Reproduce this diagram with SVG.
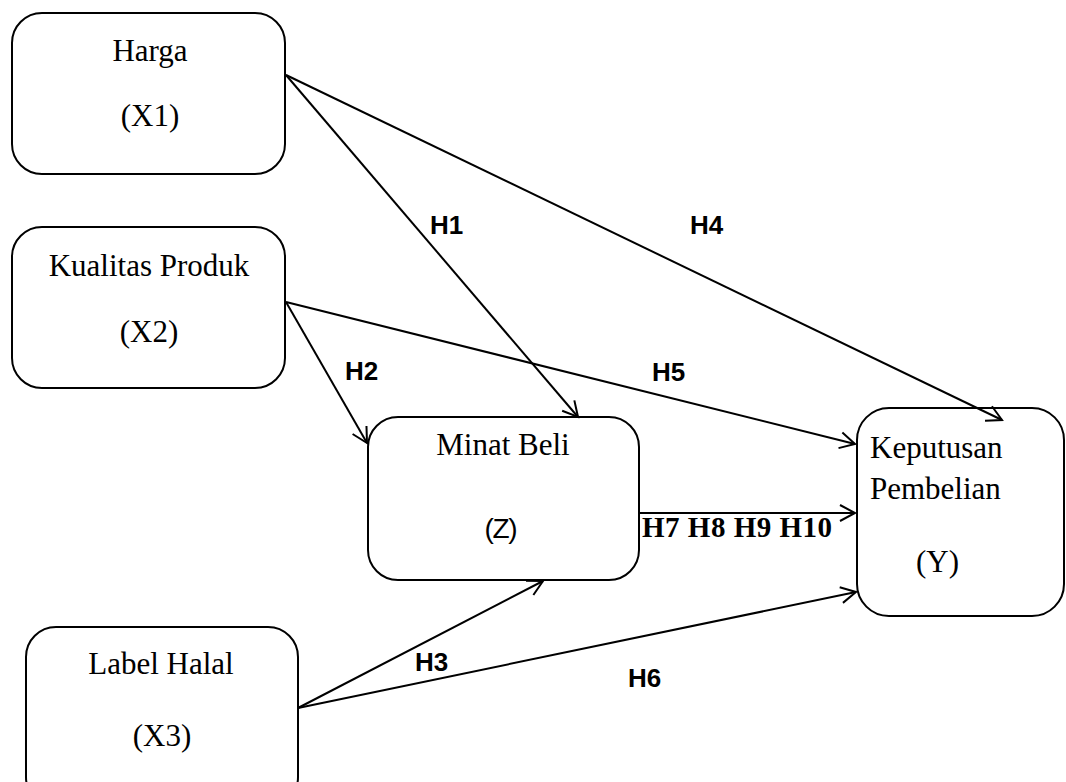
<svg xmlns="http://www.w3.org/2000/svg" width="1066" height="782" viewBox="0 0 1066 782">
<style>
.box{fill:#fff;stroke:#000;stroke-width:2}
.t{font-family:"Liberation Serif","Times New Roman",serif;font-size:31px;fill:#000}
.h{font-family:"Liberation Sans",Arial,sans-serif;font-size:26px;font-weight:bold;fill:#000}
.s{font-family:"Liberation Sans",Arial,sans-serif;font-size:28px;fill:#000}
.c line{stroke:#000;stroke-width:2;marker-end:url(#arr)}
</style>
<defs>
<marker id="arr" markerUnits="userSpaceOnUse" markerWidth="30" markerHeight="30" viewBox="-20 -15 30 30" refX="0" refY="0" orient="auto">
<path d="M-15,-8 L0,0 L-15,8" fill="none" stroke="#000" stroke-width="2"/>
</marker>
</defs>
<g id="harga">
<rect class="box" x="12" y="13" width="273" height="161" rx="30"/>
<text class="t" x="150" y="61" text-anchor="middle">Harga</text>
<text class="t" x="150" y="126" text-anchor="middle">(X1)</text>
</g>
<g id="kualitas">
<rect class="box" x="12" y="227" width="273" height="161" rx="30"/>
<text class="t" x="149" y="276" text-anchor="middle">Kualitas Produk</text>
<text class="t" x="149" y="342" text-anchor="middle">(X2)</text>
</g>
<g id="minat">
<rect class="box" x="368" y="417" width="271" height="163" rx="30"/>
<text class="t" x="503" y="455" text-anchor="middle">Minat Beli</text>
<text class="s" x="501" y="538" text-anchor="middle" textLength="33">(Z)</text>
</g>
<g id="keputusan">
<rect class="box" x="857" y="408" width="207" height="208" rx="32"/>
<text class="t" x="870" y="458">Keputusan</text>
<text class="t" x="870" y="499">Pembelian</text>
<text class="t" x="916" y="572">(Y)</text>
</g>
<g id="halal">
<rect class="box" x="26" y="627" width="272" height="180" rx="30"/>
<text class="t" x="161" y="674" text-anchor="middle">Label Halal</text>
<text class="t" x="162" y="746" text-anchor="middle">(X3)</text>
</g>
<g id="connectors" class="c">
<line x1="286" y1="75" x2="578" y2="417"/>
<line x1="286" y1="75" x2="1002" y2="420"/>
<line x1="286" y1="302" x2="367" y2="443"/>
<line x1="286" y1="302" x2="855" y2="444"/>
<line x1="640" y1="513" x2="855" y2="513"/>
<line x1="298" y1="708" x2="543" y2="581"/>
<line x1="298" y1="708" x2="856" y2="592"/>
</g>
<g id="labels">
<text class="h" x="430" y="234">H1</text>
<text class="h" x="690" y="234">H4</text>
<text class="h" x="345" y="380">H2</text>
<text class="h" x="652" y="381">H5</text>
<text class="h" x="415" y="671">H3</text>
<text class="h" x="628" y="687">H6</text>
<text x="642" y="537" style="font-family:'Liberation Serif','Times New Roman',serif;font-size:29px;font-weight:bold" textLength="190">H7 H8 H9 H10</text>
</g>
</svg>
